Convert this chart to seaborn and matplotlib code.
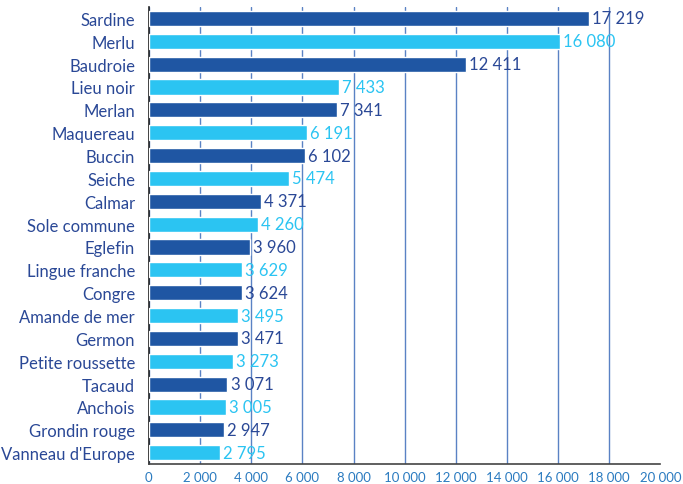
import pandas as pd
import matplotlib
matplotlib.use("Agg")
import matplotlib.pyplot as plt
import seaborn as sns

species = ["Sardine", "Merlu", "Baudroie", "Lieu noir", "Merlan", "Maquereau",
           "Buccin", "Seiche", "Calmar", "Sole commune", "Eglefin", "Lingue franche",
           "Congre", "Amande de mer", "Germon", "Petite roussette", "Tacaud",
           "Anchois", "Grondin rouge", "Vanneau d'Europe"]
tonnes = [17219, 16080, 12411, 7433, 7341, 6191, 6102, 5474, 4371, 4260,
          3960, 3629, 3624, 3495, 3471, 3273, 3071, 3005, 2947, 2795]
shade = ["dark" if i % 2 == 0 else "light" for i in range(len(species))]
xticks = list(range(0, 20001, 2000))

dark = "#1f56a3"
light = "#2bc4f2"
navy_text = "#2a4896"

df = pd.DataFrame({"species": species, "tonnes": tonnes, "shade": shade})

sns.set_style("white")
plt.rcParams["font.family"] = ["Lato", "DejaVu Sans"]

fig = plt.figure(figsize=(6.83, 4.85), dpi=100)
ax = fig.add_axes([0.218, 0.041, 0.749, 0.9425])

sns.barplot(data=df, y="species", x="tonnes", hue="shade",
            palette={"dark": dark, "light": light}, dodge=False,
            saturation=1, legend=False, width=0.66, orient="h", ax=ax, zorder=3)

# value labels
for i, (v, s) in enumerate(zip(tonnes, shade)):
    col = navy_text if s == "dark" else light
    ax.text(v + 120, i, f"{v:,}".replace(",", " "), va="center", ha="left",
            fontsize=12, color=col, zorder=4)

ax.set_xlim(0, 20000)
ax.set_ylim(len(species) - 0.5, -0.5)
ax.set_xticks(xticks)
ax.set_xticklabels([f"{t:,}".replace(",", " ") for t in xticks])
ax.set_xlabel("")
ax.set_ylabel("")

ax.xaxis.grid(True, color="#5a82c4", linewidth=1.0, zorder=0)
ax.set_axisbelow(True)
ax.get_xgridlines()[-1].set_visible(False)

ax.tick_params(axis="x", length=3, color="#5a82c4", labelsize=9.5,
               labelcolor="#2b7bc0", pad=2)
ax.tick_params(axis="y", which="major", length=0, labelsize=12,
               labelcolor=navy_text, pad=10)
ax.set_yticks([i + 0.5 for i in range(-1, len(species))], minor=True)
ax.tick_params(axis="y", which="minor", length=4, color="#333333",
               direction="out", width=1)

for side in ["top", "right"]:
    ax.spines[side].set_visible(False)
ax.spines["left"].set_color("#222222")
ax.spines["left"].set_linewidth(1.2)
ax.spines["bottom"].set_color("#444444")
ax.spines["bottom"].set_linewidth(1.2)

fig.savefig("out.png", dpi=100)
